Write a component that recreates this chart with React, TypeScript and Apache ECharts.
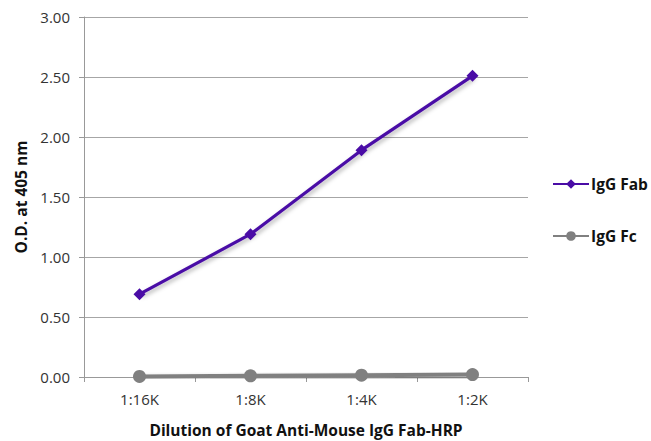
import React, { useEffect, useRef } from "react";
import * as echarts from "echarts";

const categories = ["1:16K", "1:8K", "1:4K", "1:2K"];
const fabValues = [0.69, 1.19, 1.89, 2.51];
const fcValues = [0.005, 0.01, 0.015, 0.02];
const yTicks = { min: 0, max: 3, interval: 0.5 };

export default function App() {
  const ref = useRef<HTMLDivElement>(null);
  useEffect(() => {
    const chart = echarts.init(ref.current!, null, { renderer: "svg" });
    const font = "'Open Sans', sans-serif";
    chart.setOption({
      animation: false,
      backgroundColor: "#ffffff",
      textStyle: { fontFamily: font },
      grid: { left: 84, top: 17, right: 123, bottom: 64, containLabel: false, outerBoundsMode: "none" },
      legend: {
        orient: "vertical",
        left: 552,
        top: 176,
        itemWidth: 36,
        itemHeight: 12,
        itemGap: 36,
        padding: 0,
        textStyle: { fontFamily: font, fontWeight: "bold", fontSize: 15.5, color: "#111", padding: [0, 0, 0, -3] },
        data: ["IgG Fab", "IgG Fc"],
      },
      xAxis: {
        type: "category",
        data: categories,
        boundaryGap: true,
        axisLine: { lineStyle: { color: "#999", width: 1 } },
        axisTick: { show: true, length: 5, lineStyle: { color: "#999" } },
        axisLabel: { color: "#333", fontSize: 15, margin: 14, fontFamily: font },
        name: "Dilution of Goat Anti-Mouse IgG Fab-HRP",
        nameLocation: "middle",
        nameGap: 45,
        nameTextStyle: { fontWeight: "bold", fontSize: 15.5, color: "#111", fontFamily: font },
      },
      yAxis: {
        type: "value",
        min: yTicks.min,
        max: yTicks.max,
        interval: yTicks.interval,
        axisLine: { show: true, lineStyle: { color: "#999", width: 1 } },
        axisTick: { show: true, length: 5, inside: false, lineStyle: { color: "#999" } },
        splitLine: { lineStyle: { color: "#a6a6a6", width: 1 } },
        axisLabel: { color: "#333", fontSize: 15, margin: 14, fontFamily: font, formatter: (v: number) => v.toFixed(2) },
        name: "O.D. at 405 nm",
        nameLocation: "middle",
        nameGap: 55,
        nameTextStyle: { fontWeight: "bold", fontSize: 15.5, color: "#111", fontFamily: font },
      },
      series: [
        {
          name: "IgG Fab",
          type: "line",
          data: fabValues,
          symbol: "diamond",
          symbolSize: 12,
          color: "#4a0ca6",
          lineStyle: { width: 3.2, color: "#4a0ca6", shadowColor: "rgba(0,0,0,0.3)", shadowBlur: 4, shadowOffsetX: 2, shadowOffsetY: 2 },
          itemStyle: { color: "#4a0ca6" },
          z: 3,
        },
        {
          name: "IgG Fc",
          type: "line",
          data: fcValues,
          symbol: "circle",
          symbolSize: 13,
          color: "#808080",
          lineStyle: { width: 4, color: "#808080", shadowColor: "rgba(0,0,0,0.3)", shadowBlur: 4, shadowOffsetX: 2, shadowOffsetY: 2 },
          itemStyle: { color: "#808080" },
          z: 2,
        },
      ],
    });
    return () => chart.dispose();
  }, []);
  return <div ref={ref} style={{ width: 651, height: 441, position: "absolute", left: 0, top: 0 }} />;
}
